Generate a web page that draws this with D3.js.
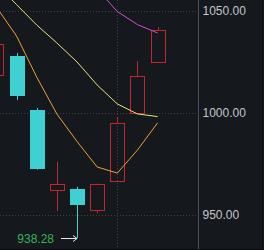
<!DOCTYPE html>
<html>
<head>
<meta charset="utf-8">
<script src="https://cdn.jsdelivr.net/npm/d3@7"></script>
<style>
  body { margin: 0; background: #15181d; }
  svg { display: block; }
</style>
</head>
<body>
<div id="chart"></div>
<script>
// chart size
var svgWidth = 264;
var svgHeight = 250;
var plotRight = 198.5;

// candle values
var opens  = [1018.4, 1027.7, 1001.2, 961.7, 962.4, 952.2, 966.4, 999.8, 1024.8];
var closes = [1033.6, 1008.6, 972.8, 964.8, 955.1, 965.0, 994.9, 1017.9, 1040.4];
var highs  = [1036.0, 1029.2, 1002.2, 975.9, 963.6, 965.2, 997.8, 1025.2, 1041.9];
var lows   = [1015.0, 1006.1, 972.0, 951.7, 938.28, 950.6, 966.2, 999.6, 1024.6];

// moving average lines
var ma5  = [1051.7, 1037.5, 1017.4, 999.3, 985.8, 973.3, 970.3, 981.6, 994.9];
var ma10 = [1063.0, 1052.9, 1042.9, 1034.1, 1024.8, 1013.5, 1004.2, 999.3, 998.0];
var ma20 = [null, null, null, null, null, 1060.5, 1049.5, 1043.1, 1039.0];

var yTicks = [950, 1000, 1050];
var lowLabel = "938.28";
var lowIndex = 4;

var svg = d3.select("#chart")
  .append("svg")
  .attr("width", svgWidth)
  .attr("height", svgHeight);

var x = d3.scaleLinear().domain([0, 8]).range([-3.6, 157.6]);
var y = d3.scaleLinear().domain([950, 1050]).range([214.5, 10.5]);

svg.append("defs").append("clipPath").attr("id", "plot")
  .append("rect").attr("x", 0).attr("y", 0).attr("width", plotRight).attr("height", 249);

// horizontal grid
svg.append("g")
  .selectAll("line")
  .data(yTicks)
  .enter().append("line")
  .attr("x1", 0).attr("x2", plotRight)
  .attr("y1", d => Math.round(y(d)) + 0.5)
  .attr("y2", d => Math.round(y(d)) + 0.5)
  .attr("stroke", "#3c4047")
  .attr("stroke-dasharray", "1,2");

// one vertical grid line
svg.append("line")
  .attr("x1", Math.round(x(6)) + 0.5).attr("x2", Math.round(x(6)) + 0.5)
  .attr("y1", 0).attr("y2", 249)
  .attr("stroke", "#3c4047")
  .attr("stroke-dasharray", "1,2");

var plot = svg.append("g").attr("clip-path", "url(#plot)");

var idx = d3.range(opens.length);
var red = "#c0262d";
var cyan = "#3fd0d2";
var half = 7;

// wicks
idx.forEach(function(i) {
  var up = closes[i] >= opens[i];
  var col = up ? red : cyan;
  var cx = Math.round(x(i)) + 0.5;
  var top = y(Math.max(opens[i], closes[i]));
  var bot = y(Math.min(opens[i], closes[i]));
  plot.append("line")
    .attr("x1", cx).attr("x2", cx)
    .attr("y1", y(highs[i])).attr("y2", top)
    .attr("stroke", col);
  plot.append("line")
    .attr("x1", cx).attr("x2", cx)
    .attr("y1", bot).attr("y2", y(lows[i]))
    .attr("stroke", col);
});

// bodies
plot.selectAll("rect.body")
  .data(idx)
  .enter().append("rect")
  .attr("class", "body")
  .attr("x", i => Math.round(x(i)) - half + 0.5)
  .attr("width", half * 2)
  .attr("y", i => Math.round(y(Math.max(opens[i], closes[i]))) + 0.5)
  .attr("height", i => Math.max(1, Math.round(y(Math.min(opens[i], closes[i])) - y(Math.max(opens[i], closes[i])))))
  .attr("fill", i => closes[i] >= opens[i] ? "none" : cyan)
  .attr("stroke", i => closes[i] >= opens[i] ? red : cyan);

// moving averages
function drawLine(values, color) {
  var line = d3.line()
    .defined(d => d != null)
    .x((d, i) => x(i))
    .y(d => y(d));
  plot.append("path")
    .datum(values)
    .attr("d", line)
    .attr("fill", "none")
    .attr("stroke", color)
    .attr("stroke-width", 1);
}
drawLine(ma10, "#e6e27a");
drawLine(ma5, "#f0a034");
drawLine(ma20, "#d14fd6");

// right axis
svg.append("line")
  .attr("x1", plotRight).attr("x2", plotRight)
  .attr("y1", 0).attr("y2", 249)
  .attr("stroke", "#4a4e55");
svg.append("line")
  .attr("x1", 262.5).attr("x2", 262.5)
  .attr("y1", 0).attr("y2", 250)
  .attr("stroke", "#0b0c0f");
svg.append("line")
  .attr("x1", 0).attr("x2", svgWidth)
  .attr("y1", 249.5).attr("y2", 249.5)
  .attr("stroke", "#0b0c0f");

var yAxis = d3.axisRight(y)
  .tickValues(yTicks)
  .tickFormat(d3.format(".2f"))
  .tickSize(0)
  .tickPadding(4);

var axisG = svg.append("g")
  .attr("transform", "translate(" + plotRight + ",0)")
  .call(yAxis);
axisG.select(".domain").remove();
axisG.selectAll("text")
  .attr("fill", "#c4c6ca")
  .style("font-family", "'Liberation Sans', Arial, sans-serif")
  .style("font-size", "12px");

// low annotation
var ly = Math.round(y(lows[lowIndex])) + 0.5;
var lx = Math.round(x(lowIndex));
svg.append("text")
  .attr("x", lx - 23)
  .attr("y", ly)
  .attr("dy", "0.35em")
  .attr("text-anchor", "end")
  .attr("fill", "#35b35c")
  .style("font-family", "'Liberation Sans', Arial, sans-serif")
  .style("font-size", "12px")
  .text(lowLabel);
svg.append("line")
  .attr("x1", lx - 16).attr("x2", lx)
  .attr("y1", ly).attr("y2", ly)
  .attr("stroke", "#e8e8e8");
svg.append("path")
  .attr("d", "M" + (lx - 4) + "," + (ly - 3) + "L" + lx + "," + ly + "L" + (lx - 4) + "," + (ly + 3))
  .attr("fill", "none")
  .attr("stroke", "#e8e8e8");
</script>
</body>
</html>
